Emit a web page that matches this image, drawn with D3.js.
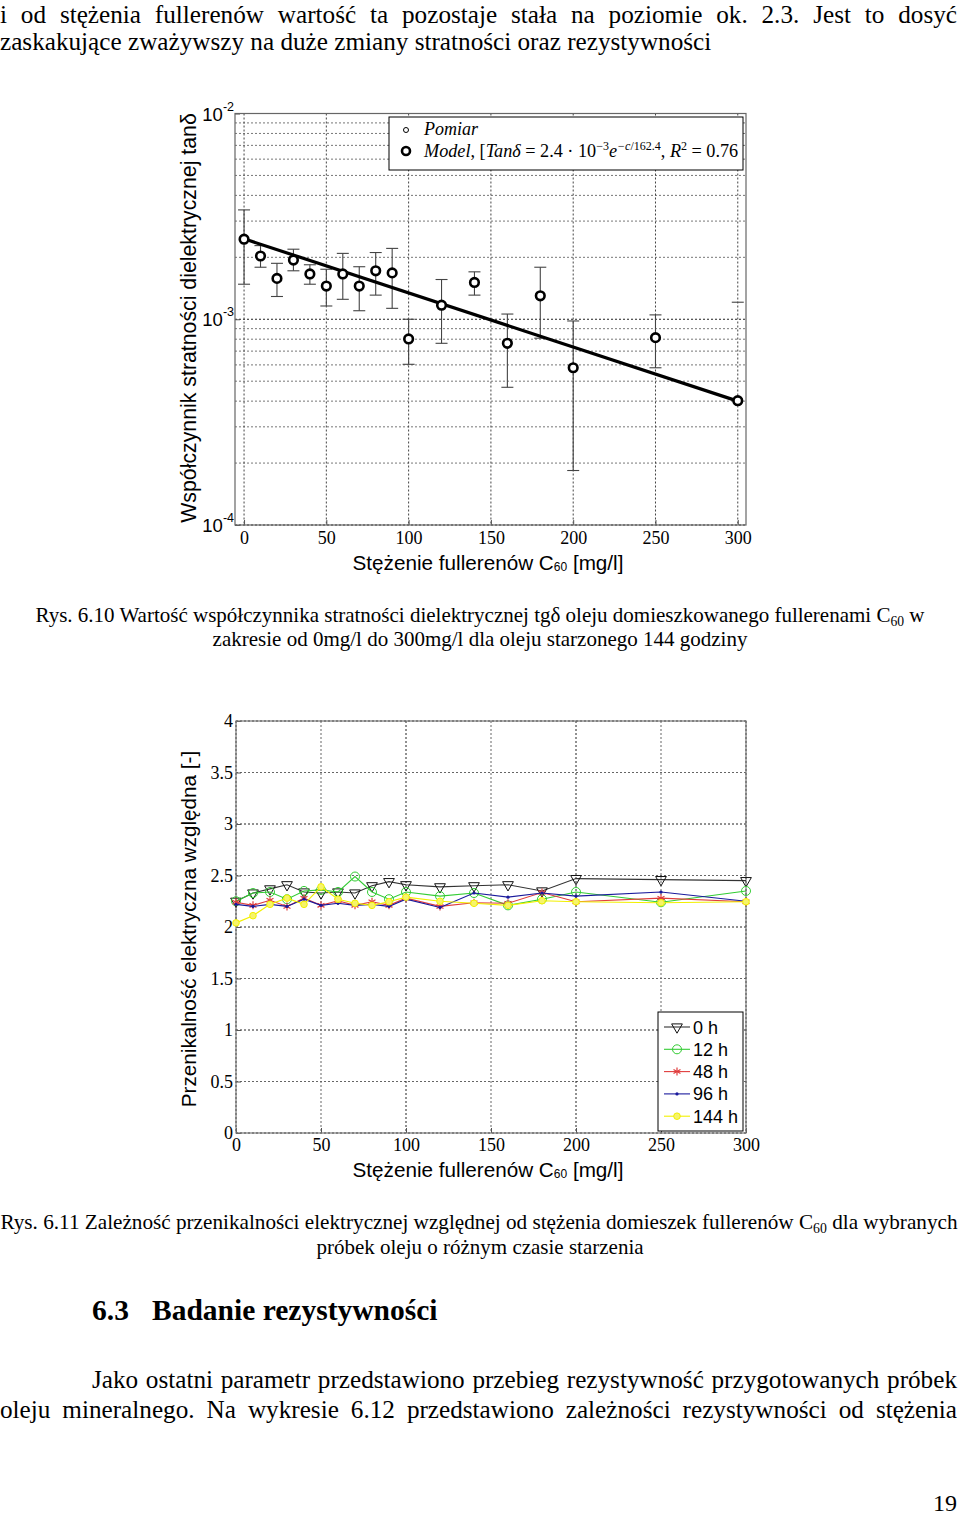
<!DOCTYPE html>
<html><head><meta charset="utf-8">
<script src="https://cdn.jsdelivr.net/npm/d3@7"></script>
<style>
body{margin:0;background:#fff;}
svg text{font-family:"Liberation Serif","Times New Roman",serif;fill:#000;}
.sans{font-family:"Liberation Sans",Arial,sans-serif !important;}
</style></head><body>
<svg id="page" width="960" height="1515"></svg>
<script>
// ---------------- DATA ----------------
const concentrations = [0,10,20,30,40,50,60,70,80,90,100,120,140,160,180,200,250,300];
// Fig 6.10: tan delta (measurement), upper / lower error bar ends
const tanDelta      = [2.45e-3,2.03e-3,1.58e-3,1.94e-3,1.66e-3,1.45e-3,1.66e-3,1.45e-3,1.72e-3,1.68e-3,8.02e-4,1.17e-3,1.51e-3,7.64e-4,1.30e-3,5.81e-4,8.14e-4,4.02e-4];
const tanDeltaUpper = [3.40e-3,2.28e-3,1.87e-3,2.19e-3,1.84e-3,1.75e-3,2.09e-3,1.80e-3,2.11e-3,2.21e-3,1.00e-3,1.56e-3,1.70e-3,1.06e-3,1.79e-3,9.81e-4,1.05e-3,1.21e-3];
const tanDeltaLower = [1.48e-3,1.79e-3,1.29e-3,1.72e-3,1.48e-3,1.16e-3,1.25e-3,1.10e-3,1.31e-3,1.13e-3,6.04e-4,7.64e-4,1.31e-3,4.67e-4,8.09e-4,1.84e-4,5.81e-4,0];
const modelConc  = [0,300];
const modelTan   = [2.46e-3,4.0e-4];
const logTicks   = [1e-4,1e-3,1e-2];
const logTickExp = ["-4","-3","-2"];
const concTicks  = [0,50,100,150,200,250,300];
// Fig 6.11: relative permittivity
const seriesNames = ["0 h","12 h","48 h","96 h","144 h"];
const perm0h   = [2.25,2.33,2.37,2.41,2.34,2.33,2.34,2.33,2.40,2.44,2.41,2.39,2.40,2.41,2.35,2.47,2.46,2.45];
const perm12h  = [2.25,2.33,2.34,2.27,2.35,2.36,2.34,2.49,2.34,2.27,2.34,2.30,2.33,2.21,2.27,2.34,2.24,2.35];
const perm48h  = [2.24,2.21,2.26,2.20,2.28,2.21,2.255,2.21,2.245,2.21,2.28,2.20,2.235,2.23,2.335,2.245,2.28,2.245];
const perm96h  = [2.22,2.20,2.22,2.20,2.27,2.21,2.23,2.21,2.22,2.20,2.27,2.19,2.33,2.29,2.33,2.30,2.34,2.25];
const perm144h = [2.04,2.11,2.22,2.28,2.22,2.39,2.27,2.23,2.21,2.245,2.29,2.25,2.23,2.21,2.255,2.245,2.235,2.245];
const permTicks = [0,0.5,1,1.5,2,2.5,3,3.5,4];
// Page text
const topLine1 = "i od stężenia fullerenów wartość ta pozostaje stała na poziomie ok. 2.3. Jest to dosyć";
const topLine2 = "zaskakujące zważywszy na duże zmiany stratności oraz rezystywności";
const cap1a = ["Rys. 6.10 Wartość współczynnika stratności dielektrycznej tgδ oleju domieszkowanego fullerenami C","60"," w"];
const cap1b = "zakresie od 0mg/l do 300mg/l dla oleju starzonego 144 godziny";
const cap2a = ["Rys. 6.11 Zależność przenikalności elektrycznej względnej od stężenia domieszek fullerenów C","60"," dla wybranych"];
const cap2b = "próbek oleju o różnym czasie starzenia";
const headNum = "6.3";
const headText = "Badanie rezystywności";
const par1 = "Jako ostatni parametr przedstawiono przebieg rezystywność przygotowanych próbek";
const par2 = "oleju mineralnego. Na wykresie 6.12 przedstawiono zależności rezystywności od stężenia";
const pageNo = "19";

// ---------------- HELPERS ----------------
const svg = d3.select("#page");
function justify(t, target){
  const w = t.node().getComputedTextLength();
  const n = (t.text().match(/ /g)||[]).length;
  if(n) t.attr("word-spacing",(target-w)/n);
}
function textWithSub(x,y,parts,size,anchor){
  const t = svg.append("text").attr("x",x).attr("y",y).attr("font-size",size).attr("text-anchor",anchor||"start");
  t.append("tspan").text(parts[0]);
  t.append("tspan").attr("font-size",size*0.65).attr("dy",size*0.18).text(parts[1]);
  t.append("tspan").attr("dy",-size*0.18).text(parts[2]);
  return t;
}

// ---------------- PAGE TEXT ----------------
const BODY = 25.2;
justify(svg.append("text").attr("x",0).attr("y",22.5).attr("font-size",BODY).text(topLine1),957);
svg.append("text").attr("x",0).attr("y",50).attr("font-size",BODY).text(topLine2);
textWithSub(480,622,cap1a,21,"middle");
svg.append("text").attr("x",480).attr("y",646).attr("font-size",21).attr("text-anchor","middle").text(cap1b);
textWithSub(479,1229,cap2a,21.2,"middle");
svg.append("text").attr("x",480).attr("y",1254).attr("font-size",21).attr("text-anchor","middle").text(cap2b);
svg.append("text").attr("x",92).attr("y",1320).attr("font-size",29.5).attr("font-weight","bold").text(headNum);
svg.append("text").attr("x",152).attr("y",1320).attr("font-size",29.5).attr("font-weight","bold").text(headText);
justify(svg.append("text").attr("x",92).attr("y",1388).attr("font-size",BODY).text(par1),865);
justify(svg.append("text").attr("x",0).attr("y",1418).attr("font-size",BODY).text(par2),957);
svg.append("text").attr("x",957).attr("y",1511).attr("font-size",24).attr("text-anchor","end").text(pageNo);

// ---------------- FIGURE 6.10 ----------------
const x1 = d3.scaleLinear().domain([-5.5,305]).range([235,746]);
const y1 = d3.scaleLog().domain([1e-4,1e-2]).range([525,113.5]);
const g1 = svg.append("g");
const [L1,R1] = x1.range(), [B1,T1] = y1.range();
const minor1 = [];
logTicks.slice(0,-1).forEach(d=>{for(let k=2;k<=9;k++) minor1.push(k*d);});
g1.selectAll(".mn").data(minor1).join("line")
  .attr("x1",L1).attr("x2",R1).attr("y1",d=>y1(d)).attr("y2",d=>y1(d))
  .attr("stroke","#777").attr("stroke-width",1).attr("stroke-dasharray","2,2");
g1.selectAll(".mj").data(logTicks).join("line")
  .attr("x1",L1).attr("x2",R1).attr("y1",d=>y1(d)).attr("y2",d=>y1(d))
  .attr("stroke","#222").attr("stroke-width",1).attr("stroke-dasharray","2,2");
g1.selectAll(".vg").data(concTicks).join("line")
  .attr("x1",d=>x1(d)).attr("x2",d=>x1(d)).attr("y1",T1).attr("y2",B1)
  .attr("stroke","#444").attr("stroke-width",1).attr("stroke-dasharray","2,2");
// axes
const ax1 = g1.append("g").attr("transform",`translate(0,${B1})`)
  .call(d3.axisBottom(x1).tickValues(concTicks).tickSize(-5).tickPadding(6).tickFormat(d3.format("d")));
ax1.select(".domain").remove();
ax1.selectAll("line").attr("stroke","#555");
ax1.selectAll("text").attr("font-size",18).attr("font-family","Liberation Sans, Arial, sans-serif");
const ay1 = g1.append("g").attr("transform",`translate(${L1},0)`)
  .call(d3.axisLeft(y1).tickValues(logTicks).tickSize(-5).tickFormat(""));
ay1.select(".domain").remove();
ay1.selectAll("line").attr("stroke","#555");
logTicks.forEach((d,i)=>{
  const t = g1.append("text").attr("class","sans").attr("x",234).attr("y",y1(d)+7)
    .attr("text-anchor","end").attr("font-size",18.5);
  t.append("tspan").text("10");
  t.append("tspan").attr("dy",-10).attr("font-size",12.5).text(logTickExp[i]);
});
g1.append("rect").attr("x",L1).attr("y",T1).attr("width",R1-L1).attr("height",B1-T1)
  .attr("fill","none").attr("stroke","#666").attr("stroke-width",1.2);
// error bars
const eb = g1.append("g").attr("stroke","#444").attr("stroke-width",1.1);
concentrations.forEach((c,i)=>{
  const xc = x1(c), up = tanDeltaUpper[i], lo = tanDeltaLower[i];
  eb.append("line").attr("x1",xc-6).attr("x2",xc+6).attr("y1",y1(up)).attr("y2",y1(up));
  if(lo>0){
    eb.append("line").attr("x1",xc).attr("x2",xc).attr("y1",y1(up)).attr("y2",y1(lo));
    eb.append("line").attr("x1",xc-6).attr("x2",xc+6).attr("y1",y1(lo)).attr("y2",y1(lo));
  }
});
// model line
g1.append("path").datum(modelConc.map((c,i)=>[c,modelTan[i]]))
  .attr("d",d3.line().x(d=>x1(d[0])).y(d=>y1(d[1])))
  .attr("fill","none").attr("stroke","#000").attr("stroke-width",3.2);
// points
g1.selectAll(".pt").data(concentrations).join("circle")
  .attr("cx",d=>x1(d)).attr("cy",(d,i)=>y1(tanDelta[i])).attr("r",4.3)
  .attr("fill","#fff").attr("stroke","#000").attr("stroke-width",2.6);
// legend
const lg1 = g1.append("g");
lg1.append("rect").attr("x",389).attr("y",117).attr("width",354).attr("height",53)
  .attr("fill","#fff").attr("stroke","#000").attr("stroke-width",1);
lg1.append("circle").attr("cx",406).attr("cy",130).attr("r",2.5).attr("fill","#fff").attr("stroke","#000").attr("stroke-width",1);
lg1.append("circle").attr("cx",406).attr("cy",151).attr("r",4).attr("fill","#fff").attr("stroke","#000").attr("stroke-width",2.6);
lg1.append("text").attr("x",424).attr("y",135).attr("font-size",18).attr("font-style","italic").text("Pomiar");
const mt = lg1.append("text").attr("x",424).attr("y",157).attr("font-size",18.2);
const it = s=>mt.append("tspan").attr("font-style","italic").text(s);
const rm = s=>mt.append("tspan").text(s);
it("Model"); rm(", ["); it("Tanδ"); rm(" = 2.4 · 10");
mt.append("tspan").attr("dy",-7).attr("font-size",12).text("−3");
mt.append("tspan").attr("dy",7).attr("font-style","italic").text("e");
mt.append("tspan").attr("dy",-7).attr("font-size",12).attr("font-style","italic").text("−c");
mt.append("tspan").attr("font-size",12).text("/162.4");
mt.append("tspan").attr("dy",7).text(", ");
it("R");
mt.append("tspan").attr("dy",-7).attr("font-size",12).text("2");
mt.append("tspan").attr("dy",7).text(" = 0.76");
// axis labels
const xl1 = svg.append("text").attr("class","sans").attr("x",488).attr("y",570).attr("text-anchor","middle").attr("font-size",20.7);
xl1.append("tspan").text("Stężenie fullerenów C");
xl1.append("tspan").attr("font-size",12).attr("dy",1).text("60");
xl1.append("tspan").attr("dy",-1).text(" [mg/l]");
svg.append("text").attr("class","sans").attr("transform","translate(196,318) rotate(-90)")
  .attr("text-anchor","middle").attr("font-size",21.3).text("Współczynnik stratności dielektrycznej tanδ");

// ---------------- FIGURE 6.11 ----------------
const x2 = d3.scaleLinear().domain([0,300]).range([236,746]);
const y2 = d3.scaleLinear().domain([0,4]).range([1133,721]);
const g2 = svg.append("g");
const [L2,R2] = x2.range(), [B2,T2] = y2.range();
g2.selectAll(".hg").data(permTicks).join("line")
  .attr("x1",L2).attr("x2",R2).attr("y1",d=>y2(d)).attr("y2",d=>y2(d))
  .attr("stroke",d=>Number.isInteger(d)?"#222":"#666").attr("stroke-width",1).attr("stroke-dasharray","2,2");
g2.selectAll(".vg").data(concTicks).join("line")
  .attr("x1",d=>x2(d)).attr("x2",d=>x2(d)).attr("y1",T2).attr("y2",B2)
  .attr("stroke",d=>d%100===0?"#222":"#666").attr("stroke-width",1).attr("stroke-dasharray","2,2");
const ax2 = g2.append("g").attr("transform",`translate(0,${B2})`)
  .call(d3.axisBottom(x2).tickValues(concTicks).tickSize(-5).tickPadding(5).tickFormat(d3.format("d")));
ax2.select(".domain").remove();
ax2.selectAll("line").attr("stroke","#555");
ax2.selectAll("text").attr("font-size",18).attr("font-family","Liberation Sans, Arial, sans-serif");
const ay2 = g2.append("g").attr("transform",`translate(${L2},0)`)
  .call(d3.axisLeft(y2).tickValues(permTicks).tickSize(-5).tickPadding(3).tickFormat(d3.format("")));
ay2.select(".domain").remove();
ay2.selectAll("line").attr("stroke","#555");
ay2.selectAll("text").attr("font-size",18).attr("font-family","Liberation Sans, Arial, sans-serif");
g2.append("rect").attr("x",L2).attr("y",T2).attr("width",R2-L2).attr("height",B2-T2)
  .attr("fill","none").attr("stroke","#777").attr("stroke-width",1.2);

const permData = [perm0h,perm12h,perm48h,perm96h,perm144h];
const colors = ["#333333","#33cc33","#e03c3c","#1a1a9c","#f2f000"];
const tri = d3.symbol().type(d3.symbolTriangle).size(50);
function marker(g,k,x,y){
  if(k===0){
    g.append("path").attr("d",tri()).attr("transform",`translate(${x},${y}) rotate(180)`)
      .attr("fill","none").attr("stroke","#111").attr("stroke-width",1);
  } else if(k===1){
    g.append("circle").attr("cx",x).attr("cy",y).attr("r",4.5).attr("fill","none").attr("stroke",colors[1]).attr("stroke-width",1);
  } else if(k===2){
    const s=4;
    [[0,s],[s*0.87,s*0.5],[s*0.87,-s*0.5]].forEach(([dx,dy])=>{
      g.append("line").attr("x1",x-dx).attr("x2",x+dx).attr("y1",y-dy).attr("y2",y+dy).attr("stroke",colors[2]).attr("stroke-width",1.2);
    });
  } else if(k===3){
    g.append("circle").attr("cx",x).attr("cy",y).attr("r",1.6).attr("fill",colors[3]);
  } else {
    g.append("circle").attr("cx",x).attr("cy",y).attr("r",3.3).attr("fill","#f6f46a").attr("stroke",colors[4]).attr("stroke-width",1);
  }
}
const line2 = d3.line().x(d=>x2(d[0])).y(d=>y2(d[1]));
permData.forEach((vals,k)=>{
  const g = g2.append("g");
  g.append("path").datum(concentrations.map((c,i)=>[c,vals[i]])).attr("d",line2)
    .attr("fill","none").attr("stroke",colors[k]).attr("stroke-width",1.1);
  concentrations.forEach((c,i)=>marker(g,k,x2(c),y2(vals[i])));
});
// legend
const lg2 = g2.append("g");
lg2.append("rect").attr("x",658).attr("y",1012).attr("width",85).attr("height",119)
  .attr("fill","#fff").attr("stroke","#000").attr("stroke-width",1);
seriesNames.forEach((n,k)=>{
  const yy = 1027 + k*22.3;
  lg2.append("line").attr("x1",664).attr("x2",690).attr("y1",yy).attr("y2",yy).attr("stroke",colors[k]).attr("stroke-width",1.1);
  marker(lg2,k,677,yy);
  lg2.append("text").attr("class","sans").attr("x",693).attr("y",yy+6.5).attr("font-size",18).text(n);
});
const xl2 = svg.append("text").attr("class","sans").attr("x",488).attr("y",1177).attr("text-anchor","middle").attr("font-size",20.7);
xl2.append("tspan").text("Stężenie fullerenów C");
xl2.append("tspan").attr("font-size",12).attr("dy",1).text("60");
xl2.append("tspan").attr("dy",-1).text(" [mg/l]");
svg.append("text").attr("class","sans").attr("transform","translate(196,929) rotate(-90)")
  .attr("text-anchor","middle").attr("font-size",20.7).text("Przenikalność elektryczna względna [-]");
</script>
</body></html>
